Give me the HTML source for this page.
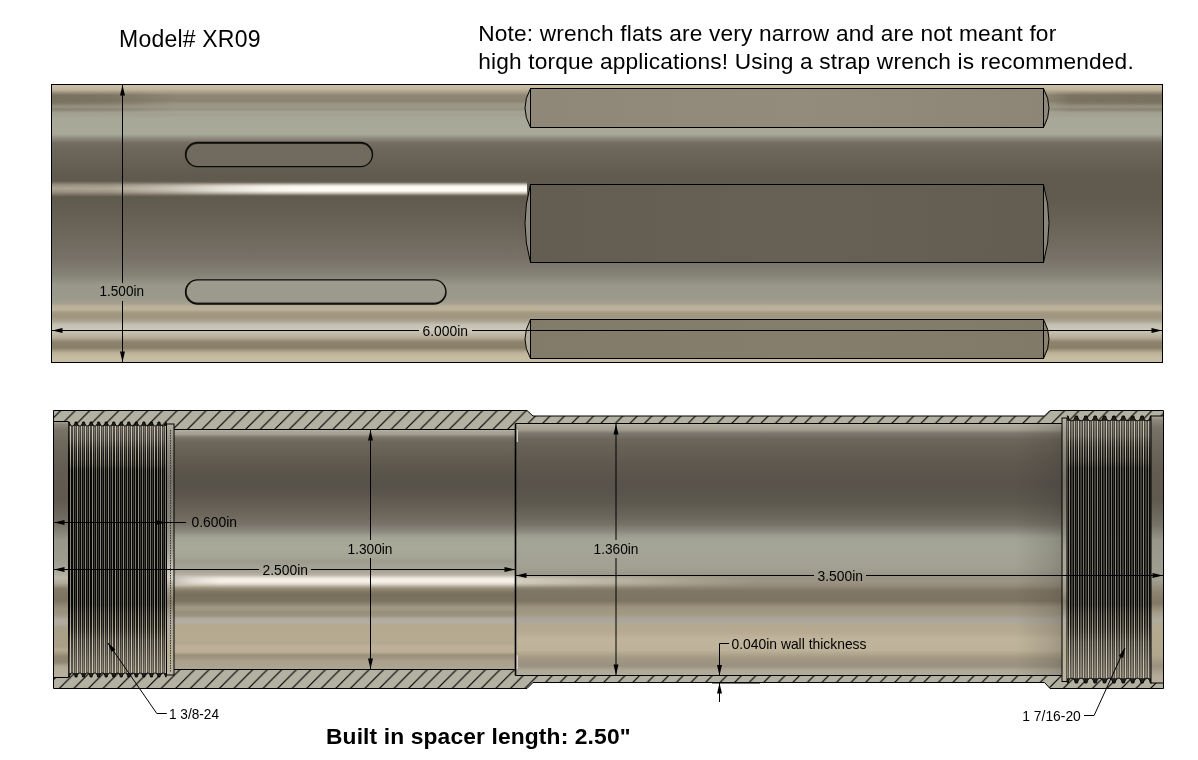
<!DOCTYPE html><html><head><meta charset="utf-8"><title>XR09</title><style>html,body{margin:0;padding:0;background:#fff}svg{display:block}text{font-family:"Liberation Sans",sans-serif;fill:#000;opacity:0.999}</style></head><body><svg width="1198" height="760" viewBox="0 0 1198 760"><rect width="1198" height="760" fill="#fff"/><defs><linearGradient id="gTop" gradientUnits="userSpaceOnUse" x1="0" y1="84.5" x2="0" y2="362.5"><stop offset="0.0000" stop-color="#cfc4aa"/><stop offset="0.0162" stop-color="#c2b79e"/><stop offset="0.0270" stop-color="#aaa08a"/><stop offset="0.0396" stop-color="#8e8573"/><stop offset="0.0576" stop-color="#8b8271"/><stop offset="0.0701" stop-color="#9a9483"/><stop offset="0.0809" stop-color="#9c9887"/><stop offset="0.0899" stop-color="#979383"/><stop offset="0.0989" stop-color="#a5a394"/><stop offset="0.1079" stop-color="#a1a091"/><stop offset="0.1241" stop-color="#a8a899"/><stop offset="0.1781" stop-color="#a9a99a"/><stop offset="0.1924" stop-color="#908d7f"/><stop offset="0.2104" stop-color="#736d61"/><stop offset="0.2356" stop-color="#6d665b"/><stop offset="0.3255" stop-color="#605a4f"/><stop offset="0.4047" stop-color="#5f594e"/><stop offset="0.4263" stop-color="#615b50"/><stop offset="0.4874" stop-color="#676156"/><stop offset="0.5594" stop-color="#6f695e"/><stop offset="0.6277" stop-color="#777267"/><stop offset="0.6853" stop-color="#858276"/><stop offset="0.7212" stop-color="#98978a"/><stop offset="0.7716" stop-color="#9b9a8c"/><stop offset="0.7860" stop-color="#a39f8d"/><stop offset="0.7986" stop-color="#bab09a"/><stop offset="0.8094" stop-color="#bcb29b"/><stop offset="0.8219" stop-color="#a2977f"/><stop offset="0.8363" stop-color="#a0957f"/><stop offset="0.8507" stop-color="#aaa390"/><stop offset="0.8633" stop-color="#c4bfb1"/><stop offset="0.8813" stop-color="#cdc8bb"/><stop offset="0.8975" stop-color="#c0b9a8"/><stop offset="0.9119" stop-color="#b4ab97"/><stop offset="0.9263" stop-color="#8d826b"/><stop offset="0.9478" stop-color="#8a7f68"/><stop offset="0.9658" stop-color="#bcb299"/><stop offset="0.9802" stop-color="#c5bba1"/><stop offset="1.0000" stop-color="#c9bfa6"/></linearGradient><linearGradient id="gHaV" gradientUnits="userSpaceOnUse" x1="0" y1="181" x2="0" y2="197"><stop offset="0.0000" stop-color="#a79d8c" stop-opacity="0"/><stop offset="0.2500" stop-color="#a79d8c" stop-opacity="0.8"/><stop offset="0.4688" stop-color="#b1a796" stop-opacity="0.95"/><stop offset="0.6875" stop-color="#a79d8c" stop-opacity="0.8"/><stop offset="1.0000" stop-color="#a79d8c" stop-opacity="0"/></linearGradient><linearGradient id="gHiV" gradientUnits="userSpaceOnUse" x1="0" y1="182.5" x2="0" y2="195.5"><stop offset="0.0000" stop-color="#e9e2d5" stop-opacity="0"/><stop offset="0.2308" stop-color="#f1ebe0" stop-opacity="0.9"/><stop offset="0.3462" stop-color="#fffdf8" stop-opacity="1"/><stop offset="0.6154" stop-color="#fffdf8" stop-opacity="1"/><stop offset="0.7308" stop-color="#f1ebe0" stop-opacity="0.9"/><stop offset="1.0000" stop-color="#e2dacb" stop-opacity="0"/></linearGradient><linearGradient id="gHiH" gradientUnits="userSpaceOnUse" x1="51" y1="0" x2="527" y2="0"><stop offset="0.0000" stop-color="#fff" stop-opacity="0.0"/><stop offset="0.1239" stop-color="#fff" stop-opacity="0.05"/><stop offset="0.2500" stop-color="#fff" stop-opacity="0.35"/><stop offset="0.3550" stop-color="#fff" stop-opacity="0.7"/><stop offset="0.4601" stop-color="#fff" stop-opacity="0.93"/><stop offset="0.5651" stop-color="#fff" stop-opacity="1"/><stop offset="1.0000" stop-color="#fff" stop-opacity="1"/></linearGradient><mask id="mHi"><rect x="51" y="178" width="476" height="24" fill="url(#gHiH)"/></mask><linearGradient id="gEndV" gradientUnits="userSpaceOnUse" x1="0" y1="91" x2="0" y2="113.5"><stop offset="0.0000" stop-color="#6c6354" stop-opacity="0"/><stop offset="0.2000" stop-color="#6c6354" stop-opacity="0.6"/><stop offset="0.5333" stop-color="#6c6354" stop-opacity="0.6"/><stop offset="0.6889" stop-color="#6c6354" stop-opacity="0.15"/><stop offset="0.8444" stop-color="#6c6354" stop-opacity="0.35"/><stop offset="1.0000" stop-color="#6c6354" stop-opacity="0"/></linearGradient><linearGradient id="gEndHL" gradientUnits="userSpaceOnUse" x1="51" y1="0" x2="175" y2="0"><stop offset="0.0000" stop-color="#fff" stop-opacity="1"/><stop offset="0.4758" stop-color="#fff" stop-opacity="0.8"/><stop offset="1.0000" stop-color="#fff" stop-opacity="0"/></linearGradient><linearGradient id="gEndHR" gradientUnits="userSpaceOnUse" x1="1046" y1="0" x2="1162" y2="0"><stop offset="0.0000" stop-color="#fff" stop-opacity="0"/><stop offset="0.2069" stop-color="#fff" stop-opacity="0.9"/><stop offset="1.0000" stop-color="#fff" stop-opacity="1"/></linearGradient><mask id="mEndL"><rect x="51" y="90" width="125" height="25" fill="url(#gEndHL)"/></mask><mask id="mEndR"><rect x="1046" y="90" width="117" height="25" fill="url(#gEndHR)"/></mask><linearGradient id="gF1" gradientUnits="userSpaceOnUse" x1="530" y1="0" x2="1043" y2="0"><stop offset="0.0000" stop-color="#8f8777"/><stop offset="0.5263" stop-color="#938b7b"/><stop offset="1.0000" stop-color="#8d8575"/></linearGradient><linearGradient id="gF2" gradientUnits="userSpaceOnUse" x1="530" y1="0" x2="1043" y2="0"><stop offset="0.0000" stop-color="#645d51"/><stop offset="0.5263" stop-color="#676054"/><stop offset="1.0000" stop-color="#645d52"/></linearGradient><linearGradient id="gF3" gradientUnits="userSpaceOnUse" x1="530" y1="0" x2="1043" y2="0"><stop offset="0.0000" stop-color="#837b6a"/><stop offset="0.5263" stop-color="#867e6d"/><stop offset="1.0000" stop-color="#827a69"/></linearGradient><pattern id="hatch" patternUnits="userSpaceOnUse" width="14.55" height="14.55" x="60.8" y="410.5"><rect width="14.55" height="14.55" fill="#b3b1a1"/><path d="M-1 1 L1 -1 M-1 15.55 L15.55 -1 M13.55 15.55 L15.55 13.55" stroke="#000" stroke-width="1.2"/></pattern><linearGradient id="gBL" gradientUnits="userSpaceOnUse" x1="0" y1="429.5" x2="0" y2="669.5"><stop offset="0.0000" stop-color="#bcb7a5"/><stop offset="0.0083" stop-color="#aca899"/><stop offset="0.0208" stop-color="#9f9b8e"/><stop offset="0.0271" stop-color="#8a8578"/><stop offset="0.0354" stop-color="#777167"/><stop offset="0.0521" stop-color="#6d675c"/><stop offset="0.1146" stop-color="#635d52"/><stop offset="0.1688" stop-color="#5b564b"/><stop offset="0.2437" stop-color="#57524a"/><stop offset="0.3146" stop-color="#645e54"/><stop offset="0.3604" stop-color="#6e685d"/><stop offset="0.3937" stop-color="#787368"/><stop offset="0.4229" stop-color="#8a887c"/><stop offset="0.4396" stop-color="#9b9a8d"/><stop offset="0.4542" stop-color="#a6a697"/><stop offset="0.4938" stop-color="#a9a99a"/><stop offset="0.5354" stop-color="#a5a596"/><stop offset="0.5479" stop-color="#9c9b8d"/><stop offset="0.5687" stop-color="#a2a193"/><stop offset="0.5938" stop-color="#a9a698"/><stop offset="0.6062" stop-color="#b9b4a6"/><stop offset="0.6146" stop-color="#dcd7cb"/><stop offset="0.6229" stop-color="#f4f0e8"/><stop offset="0.6354" stop-color="#f4f0e8"/><stop offset="0.6438" stop-color="#e0d9cb"/><stop offset="0.6521" stop-color="#bdb4a1"/><stop offset="0.6604" stop-color="#9c927e"/><stop offset="0.6729" stop-color="#837966"/><stop offset="0.6896" stop-color="#786e5c"/><stop offset="0.7146" stop-color="#7d7361"/><stop offset="0.7292" stop-color="#8f8572"/><stop offset="0.7396" stop-color="#a09782"/><stop offset="0.7521" stop-color="#a09782"/><stop offset="0.7625" stop-color="#968d7a"/><stop offset="0.7771" stop-color="#9d9582"/><stop offset="0.7896" stop-color="#b1aca0"/><stop offset="0.8063" stop-color="#b3aea2"/><stop offset="0.8146" stop-color="#b5a98f"/><stop offset="0.8812" stop-color="#b6aa90"/><stop offset="0.8896" stop-color="#b0a893"/><stop offset="0.9021" stop-color="#bdb096"/><stop offset="0.9271" stop-color="#bcaf95"/><stop offset="0.9396" stop-color="#9c927e"/><stop offset="0.9521" stop-color="#9e947f"/><stop offset="0.9646" stop-color="#aaa08b"/><stop offset="0.9896" stop-color="#ada38e"/><stop offset="1.0000" stop-color="#b0a793"/></linearGradient><linearGradient id="gBR" gradientUnits="userSpaceOnUse" x1="0" y1="423.5" x2="0" y2="675.5"><stop offset="0.0000" stop-color="#bcb7a5"/><stop offset="0.0099" stop-color="#aeaa9b"/><stop offset="0.0258" stop-color="#a19d8f"/><stop offset="0.0317" stop-color="#8e8a7d"/><stop offset="0.0397" stop-color="#7c776c"/><stop offset="0.0635" stop-color="#6c665b"/><stop offset="0.0893" stop-color="#676156"/><stop offset="0.1528" stop-color="#5f594f"/><stop offset="0.2440" stop-color="#57524a"/><stop offset="0.3155" stop-color="#5e594f"/><stop offset="0.3631" stop-color="#6a655b"/><stop offset="0.3988" stop-color="#767166"/><stop offset="0.4266" stop-color="#8a887c"/><stop offset="0.4425" stop-color="#9a998c"/><stop offset="0.4563" stop-color="#a3a395"/><stop offset="0.4940" stop-color="#a5a597"/><stop offset="0.5417" stop-color="#a3a294"/><stop offset="0.5734" stop-color="#a1a092"/><stop offset="0.5933" stop-color="#9d9a8b"/><stop offset="0.6091" stop-color="#9a9585"/><stop offset="0.6290" stop-color="#9a9484"/><stop offset="0.6448" stop-color="#938a78"/><stop offset="0.6647" stop-color="#807665"/><stop offset="0.7044" stop-color="#7e7462"/><stop offset="0.7282" stop-color="#9c927e"/><stop offset="0.7599" stop-color="#a49b87"/><stop offset="0.7758" stop-color="#aaa69a"/><stop offset="0.7877" stop-color="#ada89b"/><stop offset="0.8036" stop-color="#b4a990"/><stop offset="0.8313" stop-color="#b7ac93"/><stop offset="0.8552" stop-color="#c0b59c"/><stop offset="0.8988" stop-color="#beb39a"/><stop offset="0.9147" stop-color="#b0a58d"/><stop offset="0.9345" stop-color="#a09682"/><stop offset="0.9623" stop-color="#9b9180"/><stop offset="0.9782" stop-color="#aea796"/><stop offset="1.0000" stop-color="#b5ae9d"/></linearGradient><linearGradient id="gRD" gradientUnits="userSpaceOnUse" x1="1015" y1="0" x2="1062" y2="0"><stop offset="0.0000" stop-color="#2a2822" stop-opacity="0"/><stop offset="0.7447" stop-color="#2a2822" stop-opacity="0.14"/><stop offset="1.0000" stop-color="#2a2822" stop-opacity="0.22"/></linearGradient><linearGradient id="gRH" gradientUnits="userSpaceOnUse" x1="516" y1="0" x2="760" y2="0"><stop offset="0.0000" stop-color="#e6e0d2" stop-opacity="0.75"/><stop offset="0.4262" stop-color="#ddd6c6" stop-opacity="0.45"/><stop offset="1.0000" stop-color="#d0c8b6" stop-opacity="0.0"/></linearGradient><linearGradient id="gRHv" gradientUnits="userSpaceOnUse" x1="0" y1="574" x2="0" y2="588"><stop offset="0.0000" stop-color="#fff" stop-opacity="0"/><stop offset="0.3571" stop-color="#fff" stop-opacity="1"/><stop offset="0.6429" stop-color="#fff" stop-opacity="1"/><stop offset="1.0000" stop-color="#fff" stop-opacity="0"/></linearGradient><mask id="mRH"><rect x="515" y="572" width="250" height="18" fill="url(#gRHv)"/></mask><linearGradient id="gLF" gradientUnits="userSpaceOnUse" x1="174" y1="0" x2="235" y2="0"><stop offset="0.0000" stop-color="#a39f92" stop-opacity="0.6"/><stop offset="0.2623" stop-color="#a8a396" stop-opacity="0.3"/><stop offset="0.7541" stop-color="#b0ab9e" stop-opacity="0.0"/></linearGradient><linearGradient id="gLFv" gradientUnits="userSpaceOnUse" x1="0" y1="574" x2="0" y2="587"><stop offset="0.0000" stop-color="#fff" stop-opacity="0"/><stop offset="0.3077" stop-color="#fff" stop-opacity="1"/><stop offset="0.6923" stop-color="#fff" stop-opacity="1"/><stop offset="1.0000" stop-color="#fff" stop-opacity="0"/></linearGradient><mask id="mLF"><rect x="174" y="572" width="70" height="18" fill="url(#gLFv)"/></mask><linearGradient id="gEL" gradientUnits="userSpaceOnUse" x1="0" y1="421.5" x2="0" y2="677.5"><stop offset="0.0000" stop-color="#a9a596"/><stop offset="0.0098" stop-color="#8d887b"/><stop offset="0.0332" stop-color="#787267"/><stop offset="0.0918" stop-color="#6d675c"/><stop offset="0.1895" stop-color="#625c52"/><stop offset="0.3066" stop-color="#5f594f"/><stop offset="0.4043" stop-color="#777368"/><stop offset="0.4629" stop-color="#979689"/><stop offset="0.5410" stop-color="#9d9c8e"/><stop offset="0.5879" stop-color="#aeab9e"/><stop offset="0.6113" stop-color="#bcb8aa"/><stop offset="0.6309" stop-color="#b0a999"/><stop offset="0.6543" stop-color="#847967"/><stop offset="0.6973" stop-color="#7c7260"/><stop offset="0.7285" stop-color="#978e7a"/><stop offset="0.7520" stop-color="#9d9480"/><stop offset="0.7754" stop-color="#b0ab9e"/><stop offset="0.7910" stop-color="#b0ab9e"/><stop offset="0.8066" stop-color="#a99e86"/><stop offset="0.8770" stop-color="#aa9f87"/><stop offset="0.8926" stop-color="#b5a98f"/><stop offset="0.9199" stop-color="#8f8571"/><stop offset="0.9395" stop-color="#8f8571"/><stop offset="0.9590" stop-color="#b3ab98"/><stop offset="1.0000" stop-color="#b8b09d"/></linearGradient><linearGradient id="gThS" gradientUnits="userSpaceOnUse" x1="0" y1="423" x2="0" y2="676"><stop offset="0.0000" stop-color="#d5d0be" stop-opacity="0.38"/><stop offset="0.0672" stop-color="#cfcab8" stop-opacity="0.26"/><stop offset="0.1265" stop-color="#6a6659" stop-opacity="0.12"/><stop offset="0.1858" stop-color="#000" stop-opacity="0.3"/><stop offset="0.7194" stop-color="#000" stop-opacity="0.28"/><stop offset="0.7984" stop-color="#5d5748" stop-opacity="0.15"/><stop offset="0.8577" stop-color="#cfc6ae" stop-opacity="0.22"/><stop offset="0.9368" stop-color="#d2c9b2" stop-opacity="0.36"/><stop offset="1.0000" stop-color="#d6ceb8" stop-opacity="0.45"/></linearGradient><linearGradient id="gGrv" gradientUnits="userSpaceOnUse" x1="0" y1="424" x2="0" y2="675"><stop offset="0.0000" stop-color="#b7b3a3"/><stop offset="0.0319" stop-color="#a39f90"/><stop offset="0.1036" stop-color="#8d897c"/><stop offset="0.2231" stop-color="#777368"/><stop offset="0.3825" stop-color="#868377"/><stop offset="0.5020" stop-color="#a5a496"/><stop offset="0.6135" stop-color="#d5d0c4"/><stop offset="0.6614" stop-color="#a39a88"/><stop offset="0.7092" stop-color="#8a806e"/><stop offset="0.7809" stop-color="#b1aca0"/><stop offset="0.9004" stop-color="#b9ae95"/><stop offset="1.0000" stop-color="#bdb5a2"/></linearGradient><linearGradient id="gGrvR" gradientUnits="userSpaceOnUse" x1="0" y1="418" x2="0" y2="681"><stop offset="0.0000" stop-color="#b7b3a3"/><stop offset="0.0532" stop-color="#a39f90"/><stop offset="0.1217" stop-color="#8d897c"/><stop offset="0.2357" stop-color="#777368"/><stop offset="0.3878" stop-color="#868377"/><stop offset="0.5019" stop-color="#a5a496"/><stop offset="0.6084" stop-color="#a9a597"/><stop offset="0.6540" stop-color="#a39a88"/><stop offset="0.6996" stop-color="#8a806e"/><stop offset="0.7681" stop-color="#b1aca0"/><stop offset="0.8821" stop-color="#b9ae95"/><stop offset="1.0000" stop-color="#bdb5a2"/></linearGradient><linearGradient id="gThSR" gradientUnits="userSpaceOnUse" x1="0" y1="416" x2="0" y2="683"><stop offset="0.0000" stop-color="#d5d0be" stop-opacity="0.38"/><stop offset="0.0749" stop-color="#cfcab8" stop-opacity="0.26"/><stop offset="0.1348" stop-color="#6a6659" stop-opacity="0.12"/><stop offset="0.1948" stop-color="#000" stop-opacity="0.3"/><stop offset="0.7079" stop-color="#000" stop-opacity="0.28"/><stop offset="0.7828" stop-color="#5d5748" stop-opacity="0.15"/><stop offset="0.8464" stop-color="#cfc6ae" stop-opacity="0.22"/><stop offset="0.9288" stop-color="#d2c9b2" stop-opacity="0.36"/><stop offset="1.0000" stop-color="#d6ceb8" stop-opacity="0.45"/></linearGradient><linearGradient id="gER" gradientUnits="userSpaceOnUse" x1="0" y1="416" x2="0" y2="683"><stop offset="0.0000" stop-color="#a9a596"/><stop offset="0.0150" stop-color="#8d887b"/><stop offset="0.0449" stop-color="#787267"/><stop offset="0.1086" stop-color="#6d675c"/><stop offset="0.2022" stop-color="#625c52"/><stop offset="0.3146" stop-color="#5f594f"/><stop offset="0.4082" stop-color="#777368"/><stop offset="0.4644" stop-color="#979689"/><stop offset="0.5581" stop-color="#9d9c8e"/><stop offset="0.6142" stop-color="#a29f91"/><stop offset="0.6592" stop-color="#8e8471"/><stop offset="0.7004" stop-color="#817765"/><stop offset="0.7341" stop-color="#a39a86"/><stop offset="0.7640" stop-color="#b0ab9e"/><stop offset="0.7940" stop-color="#b5a98f"/><stop offset="0.8951" stop-color="#b2a68d"/><stop offset="0.9363" stop-color="#9b917d"/><stop offset="0.9738" stop-color="#b3ab98"/><stop offset="1.0000" stop-color="#b8b09d"/></linearGradient></defs><rect x="51.5" y="84.5" width="1111.0" height="278.0" fill="url(#gTop)"/>
<rect x="51.5" y="181" width="475.5" height="16" fill="url(#gHaV)"/>
<rect x="51" y="182.5" width="476" height="13" fill="url(#gHiV)" mask="url(#mHi)"/>
<rect x="51.5" y="91" width="124" height="22.5" fill="url(#gEndV)" mask="url(#mEndL)"/>
<rect x="1046" y="91" width="116.5" height="22.5" fill="url(#gEndV)" mask="url(#mEndR)"/>
<path d="M530.5 88.5 Q519.5 108.0 530.5 127.5 Z" fill="#a09a88" stroke="#000" stroke-width="1"/><path d="M1043.5 88.5 Q1054.5 108.0 1043.5 127.5 Z" fill="#8f8777" stroke="#000" stroke-width="1"/><rect x="530.5" y="88.5" width="513.0" height="39.0" fill="url(#gF1)" stroke="#000" stroke-width="1"/>
<path d="M530.5 184.5 Q519.5 223.5 530.5 262.5 Z" fill="#8d8a7d" stroke="#000" stroke-width="1"/><path d="M1043.5 184.5 Q1054.5 223.5 1043.5 262.5 Z" fill="#8a877a" stroke="#000" stroke-width="1"/><rect x="530.5" y="184.5" width="513.0" height="78.0" fill="url(#gF2)" stroke="#000" stroke-width="1"/>
<path d="M530.5 319.5 Q519.5 339.0 530.5 358.5 Z" fill="#b5ae9c" stroke="#000" stroke-width="1"/><path d="M1043.5 319.5 Q1054.5 339.0 1043.5 358.5 Z" fill="#8a826f" stroke="#000" stroke-width="1"/><rect x="530.5" y="319.5" width="513.0" height="39.0" fill="url(#gF3)" stroke="#000" stroke-width="1"/>
<rect x="185.5" y="142.5" width="187.0" height="24.0" rx="12.0" ry="12.0" fill="#2a2722" stroke="#0a0a08" stroke-width="1.3"/><rect x="186.8" y="144.1" width="184.8" height="21.900000000000006" rx="10.950000000000003" ry="10.950000000000003" fill="#716a5e"/>
<rect x="185.5" y="280" width="260.5" height="24" rx="12.0" ry="12.0" fill="#2a2722" stroke="#0a0a08" stroke-width="1.3"/><rect x="186.8" y="280.5" width="258.3" height="21.899999999999977" rx="10.949999999999989" ry="10.949999999999989" fill="#9c9a8c"/>
<rect x="51.5" y="84.5" width="1111.0" height="278.0" fill="none" stroke="#000" stroke-width="1"/>
<line x1="122.5" y1="85" x2="122.5" y2="283" stroke="#000" stroke-width="1"/>
<line x1="122.5" y1="301" x2="122.5" y2="362" stroke="#000" stroke-width="1"/>
<polygon points="122.5,85.0 120.0,95.5 125.0,95.5" fill="#000"/>
<polygon points="122.5,362.0 120.0,351.5 125.0,351.5" fill="#000"/>
<text x="99.5" y="296.4" font-size="14.5" textLength="44.5" lengthAdjust="spacingAndGlyphs">1.500in</text>
<line x1="52" y1="330.5" x2="419" y2="330.5" stroke="#000" stroke-width="1"/>
<line x1="472" y1="330.5" x2="1162" y2="330.5" stroke="#000" stroke-width="1"/>
<polygon points="52.0,330.5 62.5,328.0 62.5,333.0" fill="#000"/>
<polygon points="1162.0,330.5 1151.5,328.0 1151.5,333.0" fill="#000"/>
<text x="422.5" y="335.9" font-size="14.5" textLength="45.5" lengthAdjust="spacingAndGlyphs">6.000in</text>
<polygon points="53.5,410.5 527,410.5 533,416 1044.5,416 1050,410.5 1163.5,410.5 1163.5,688.5 1050,688.5 1044.5,682.5 533,682.5 527,688.5 53.5,688.5" fill="url(#hatch)" stroke="#000" stroke-width="1"/>
<rect x="174" y="429.5" width="341.5" height="240" fill="url(#gBL)"/>
<rect x="515.5" y="423.5" width="546.5" height="252" fill="url(#gBR)"/>
<rect x="1015" y="423.5" width="47" height="252" fill="url(#gRD)"/>
<rect x="515.5" y="574" width="245" height="14" fill="url(#gRH)" mask="url(#mRH)"/>
<rect x="174" y="574" width="61" height="13" fill="url(#gLF)" mask="url(#mLF)"/>
<line x1="174" y1="429.5" x2="515.5" y2="429.5" stroke="#000" stroke-width="1"/>
<line x1="174" y1="669.5" x2="515.5" y2="669.5" stroke="#000" stroke-width="1"/>
<line x1="515.5" y1="423.5" x2="1062" y2="423.5" stroke="#000" stroke-width="1"/>
<line x1="515.5" y1="675.5" x2="1062" y2="675.5" stroke="#000" stroke-width="1"/>
<line x1="515.5" y1="423.5" x2="515.5" y2="675.5" stroke="#000" stroke-width="1.6"/>
<line x1="517.3" y1="430" x2="517.3" y2="442" stroke="#d8d4c8" stroke-width="1.2"/>
<line x1="517.3" y1="655" x2="517.3" y2="669" stroke="#d8d4c8" stroke-width="1.2"/>
<rect x="53.5" y="421.5" width="15" height="256" fill="url(#gEL)" stroke="#000" stroke-width="1"/>
<g shape-rendering="crispEdges"><rect x="68.5" y="423" width="98.0" height="253" fill="#55524a"/><rect x="68.50" y="423" width="1" height="253" fill="#0b0b09"/><rect x="69.50" y="423" width="1" height="253" fill="#c6c0af"/><rect x="70.50" y="423" width="1" height="253" fill="#0b0b09"/><rect x="72.33" y="423" width="1" height="253" fill="#0b0b09"/><rect x="73.33" y="423" width="1" height="253" fill="#aaa494"/><rect x="74.33" y="423" width="1" height="253" fill="#0b0b09"/><rect x="76.15" y="423" width="1" height="253" fill="#0b0b09"/><rect x="77.15" y="423" width="1" height="253" fill="#c6c0af"/><rect x="78.15" y="423" width="1" height="253" fill="#0b0b09"/><rect x="79.98" y="423" width="1" height="253" fill="#0b0b09"/><rect x="80.98" y="423" width="1" height="253" fill="#aaa494"/><rect x="81.98" y="423" width="1" height="253" fill="#0b0b09"/><rect x="83.80" y="423" width="1" height="253" fill="#0b0b09"/><rect x="84.80" y="423" width="1" height="253" fill="#c6c0af"/><rect x="85.80" y="423" width="1" height="253" fill="#0b0b09"/><rect x="87.63" y="423" width="1" height="253" fill="#0b0b09"/><rect x="88.63" y="423" width="1" height="253" fill="#aaa494"/><rect x="89.63" y="423" width="1" height="253" fill="#0b0b09"/><rect x="91.45" y="423" width="1" height="253" fill="#0b0b09"/><rect x="92.45" y="423" width="1" height="253" fill="#c6c0af"/><rect x="93.45" y="423" width="1" height="253" fill="#0b0b09"/><rect x="95.28" y="423" width="1" height="253" fill="#0b0b09"/><rect x="96.28" y="423" width="1" height="253" fill="#aaa494"/><rect x="97.28" y="423" width="1" height="253" fill="#0b0b09"/><rect x="99.10" y="423" width="1" height="253" fill="#0b0b09"/><rect x="100.10" y="423" width="1" height="253" fill="#c6c0af"/><rect x="101.10" y="423" width="1" height="253" fill="#0b0b09"/><rect x="102.93" y="423" width="1" height="253" fill="#0b0b09"/><rect x="103.93" y="423" width="1" height="253" fill="#aaa494"/><rect x="104.93" y="423" width="1" height="253" fill="#0b0b09"/><rect x="106.75" y="423" width="1" height="253" fill="#0b0b09"/><rect x="107.75" y="423" width="1" height="253" fill="#c6c0af"/><rect x="108.75" y="423" width="1" height="253" fill="#0b0b09"/><rect x="110.58" y="423" width="1" height="253" fill="#0b0b09"/><rect x="111.58" y="423" width="1" height="253" fill="#aaa494"/><rect x="112.58" y="423" width="1" height="253" fill="#0b0b09"/><rect x="114.40" y="423" width="1" height="253" fill="#0b0b09"/><rect x="115.40" y="423" width="1" height="253" fill="#c6c0af"/><rect x="116.40" y="423" width="1" height="253" fill="#0b0b09"/><rect x="118.23" y="423" width="1" height="253" fill="#0b0b09"/><rect x="119.23" y="423" width="1" height="253" fill="#aaa494"/><rect x="120.23" y="423" width="1" height="253" fill="#0b0b09"/><rect x="122.05" y="423" width="1" height="253" fill="#0b0b09"/><rect x="123.05" y="423" width="1" height="253" fill="#c6c0af"/><rect x="124.05" y="423" width="1" height="253" fill="#0b0b09"/><rect x="125.88" y="423" width="1" height="253" fill="#0b0b09"/><rect x="126.88" y="423" width="1" height="253" fill="#aaa494"/><rect x="127.88" y="423" width="1" height="253" fill="#0b0b09"/><rect x="129.70" y="423" width="1" height="253" fill="#0b0b09"/><rect x="130.70" y="423" width="1" height="253" fill="#c6c0af"/><rect x="131.70" y="423" width="1" height="253" fill="#0b0b09"/><rect x="133.53" y="423" width="1" height="253" fill="#0b0b09"/><rect x="134.53" y="423" width="1" height="253" fill="#aaa494"/><rect x="135.53" y="423" width="1" height="253" fill="#0b0b09"/><rect x="137.35" y="423" width="1" height="253" fill="#0b0b09"/><rect x="138.35" y="423" width="1" height="253" fill="#c6c0af"/><rect x="139.35" y="423" width="1" height="253" fill="#0b0b09"/><rect x="141.18" y="423" width="1" height="253" fill="#0b0b09"/><rect x="142.18" y="423" width="1" height="253" fill="#aaa494"/><rect x="143.18" y="423" width="1" height="253" fill="#0b0b09"/><rect x="145.00" y="423" width="1" height="253" fill="#0b0b09"/><rect x="146.00" y="423" width="1" height="253" fill="#c6c0af"/><rect x="147.00" y="423" width="1" height="253" fill="#0b0b09"/><rect x="148.82" y="423" width="1" height="253" fill="#0b0b09"/><rect x="149.82" y="423" width="1" height="253" fill="#aaa494"/><rect x="150.82" y="423" width="1" height="253" fill="#0b0b09"/><rect x="152.65" y="423" width="1" height="253" fill="#0b0b09"/><rect x="153.65" y="423" width="1" height="253" fill="#c6c0af"/><rect x="154.65" y="423" width="1" height="253" fill="#0b0b09"/><rect x="156.47" y="423" width="1" height="253" fill="#0b0b09"/><rect x="157.47" y="423" width="1" height="253" fill="#aaa494"/><rect x="158.47" y="423" width="1" height="253" fill="#0b0b09"/><rect x="160.30" y="423" width="1" height="253" fill="#0b0b09"/><rect x="161.30" y="423" width="1" height="253" fill="#c6c0af"/><rect x="162.30" y="423" width="1" height="253" fill="#0b0b09"/><rect x="164.12" y="423" width="1" height="253" fill="#0b0b09"/><rect x="165.12" y="423" width="1" height="253" fill="#aaa494"/><rect x="166.12" y="423" width="1" height="253" fill="#0b0b09"/></g>
<rect x="68.5" y="423" width="98" height="253" fill="url(#gThS)"/>
<rect x="68.5" y="422.00" width="98.0" height="4.00" fill="#1f1e1a"/><path d="M68.50 422.00 L69.40 422.00 C70.16 427.33 74.38 427.33 75.13 422.00 L76.94 422.00 C77.70 427.33 81.92 427.33 82.67 422.00 L84.48 422.00 C85.24 427.33 89.46 427.33 90.21 422.00 L92.02 422.00 C92.77 427.33 97.00 427.33 97.75 422.00 L99.56 422.00 C100.31 427.33 104.53 427.33 105.29 422.00 L107.10 422.00 C107.85 427.33 112.07 427.33 112.83 422.00 L114.64 422.00 C115.39 427.33 119.61 427.33 120.36 422.00 L122.17 422.00 C122.93 427.33 127.15 427.33 127.90 422.00 L129.71 422.00 C130.47 427.33 134.69 427.33 135.44 422.00 L137.25 422.00 C138.00 427.33 142.23 427.33 142.98 422.00 L144.79 422.00 C145.54 427.33 149.76 427.33 150.52 422.00 L152.33 422.00 C153.08 427.33 157.30 427.33 158.06 422.00 L159.87 422.00 C160.62 427.33 164.84 427.33 165.60 422.00 L166.50 422.00 L166.50 420.80 L68.50 420.80 Z" fill="url(#hatch)"/><path d="M68.50 422.00 L69.40 422.00 C70.16 427.33 74.38 427.33 75.13 422.00 L76.94 422.00 C77.70 427.33 81.92 427.33 82.67 422.00 L84.48 422.00 C85.24 427.33 89.46 427.33 90.21 422.00 L92.02 422.00 C92.77 427.33 97.00 427.33 97.75 422.00 L99.56 422.00 C100.31 427.33 104.53 427.33 105.29 422.00 L107.10 422.00 C107.85 427.33 112.07 427.33 112.83 422.00 L114.64 422.00 C115.39 427.33 119.61 427.33 120.36 422.00 L122.17 422.00 C122.93 427.33 127.15 427.33 127.90 422.00 L129.71 422.00 C130.47 427.33 134.69 427.33 135.44 422.00 L137.25 422.00 C138.00 427.33 142.23 427.33 142.98 422.00 L144.79 422.00 C145.54 427.33 149.76 427.33 150.52 422.00 L152.33 422.00 C153.08 427.33 157.30 427.33 158.06 422.00 L159.87 422.00 C160.62 427.33 164.84 427.33 165.60 422.00 L166.50 422.00" fill="none" stroke="#000" stroke-width="0.9" stroke-linejoin="round"/>
<rect x="68.5" y="673.00" width="98.0" height="4.00" fill="#1f1e1a"/><path d="M68.50 677.00 L69.40 677.00 C70.16 671.67 74.38 671.67 75.13 677.00 L76.94 677.00 C77.70 671.67 81.92 671.67 82.67 677.00 L84.48 677.00 C85.24 671.67 89.46 671.67 90.21 677.00 L92.02 677.00 C92.77 671.67 97.00 671.67 97.75 677.00 L99.56 677.00 C100.31 671.67 104.53 671.67 105.29 677.00 L107.10 677.00 C107.85 671.67 112.07 671.67 112.83 677.00 L114.64 677.00 C115.39 671.67 119.61 671.67 120.36 677.00 L122.17 677.00 C122.93 671.67 127.15 671.67 127.90 677.00 L129.71 677.00 C130.47 671.67 134.69 671.67 135.44 677.00 L137.25 677.00 C138.00 671.67 142.23 671.67 142.98 677.00 L144.79 677.00 C145.54 671.67 149.76 671.67 150.52 677.00 L152.33 677.00 C153.08 671.67 157.30 671.67 158.06 677.00 L159.87 677.00 C160.62 671.67 164.84 671.67 165.60 677.00 L166.50 677.00 L166.50 678.20 L68.50 678.20 Z" fill="url(#hatch)"/><path d="M68.50 677.00 L69.40 677.00 C70.16 671.67 74.38 671.67 75.13 677.00 L76.94 677.00 C77.70 671.67 81.92 671.67 82.67 677.00 L84.48 677.00 C85.24 671.67 89.46 671.67 90.21 677.00 L92.02 677.00 C92.77 671.67 97.00 671.67 97.75 677.00 L99.56 677.00 C100.31 671.67 104.53 671.67 105.29 677.00 L107.10 677.00 C107.85 671.67 112.07 671.67 112.83 677.00 L114.64 677.00 C115.39 671.67 119.61 671.67 120.36 677.00 L122.17 677.00 C122.93 671.67 127.15 671.67 127.90 677.00 L129.71 677.00 C130.47 671.67 134.69 671.67 135.44 677.00 L137.25 677.00 C138.00 671.67 142.23 671.67 142.98 677.00 L144.79 677.00 C145.54 671.67 149.76 671.67 150.52 677.00 L152.33 677.00 C153.08 671.67 157.30 671.67 158.06 677.00 L159.87 677.00 C160.62 671.67 164.84 671.67 165.60 677.00 L166.50 677.00" fill="none" stroke="#000" stroke-width="0.9" stroke-linejoin="round"/>
<rect x="166.5" y="424" width="7.5" height="251" fill="url(#gGrv)" stroke="#000" stroke-width="1"/>
<line x1="170.5" y1="430" x2="170.5" y2="672" stroke="#3a3832" stroke-width="1" stroke-dasharray="1.5 1"/>
<rect x="1062" y="418" width="5" height="263.5" fill="url(#gGrvR)" stroke="#000" stroke-width="1"/>
<g shape-rendering="crispEdges"><rect x="1067" y="416.5" width="84.5" height="266.0" fill="#55524a"/><rect x="1068.00" y="416.5" width="1" height="266.0" fill="#0b0b09"/><rect x="1069.00" y="416.5" width="1" height="266.0" fill="#c6c0af"/><rect x="1070.00" y="416.5" width="1" height="266.0" fill="#0b0b09"/><rect x="1072.63" y="416.5" width="1" height="266.0" fill="#0b0b09"/><rect x="1073.63" y="416.5" width="1" height="266.0" fill="#aaa494"/><rect x="1074.63" y="416.5" width="1" height="266.0" fill="#0b0b09"/><rect x="1077.26" y="416.5" width="1" height="266.0" fill="#0b0b09"/><rect x="1078.26" y="416.5" width="1" height="266.0" fill="#c6c0af"/><rect x="1079.26" y="416.5" width="1" height="266.0" fill="#0b0b09"/><rect x="1081.89" y="416.5" width="1" height="266.0" fill="#0b0b09"/><rect x="1082.89" y="416.5" width="1" height="266.0" fill="#aaa494"/><rect x="1083.89" y="416.5" width="1" height="266.0" fill="#0b0b09"/><rect x="1086.52" y="416.5" width="1" height="266.0" fill="#0b0b09"/><rect x="1087.52" y="416.5" width="1" height="266.0" fill="#c6c0af"/><rect x="1088.52" y="416.5" width="1" height="266.0" fill="#0b0b09"/><rect x="1091.15" y="416.5" width="1" height="266.0" fill="#0b0b09"/><rect x="1092.15" y="416.5" width="1" height="266.0" fill="#aaa494"/><rect x="1093.15" y="416.5" width="1" height="266.0" fill="#0b0b09"/><rect x="1095.78" y="416.5" width="1" height="266.0" fill="#0b0b09"/><rect x="1096.78" y="416.5" width="1" height="266.0" fill="#c6c0af"/><rect x="1097.78" y="416.5" width="1" height="266.0" fill="#0b0b09"/><rect x="1100.41" y="416.5" width="1" height="266.0" fill="#0b0b09"/><rect x="1101.41" y="416.5" width="1" height="266.0" fill="#aaa494"/><rect x="1102.41" y="416.5" width="1" height="266.0" fill="#0b0b09"/><rect x="1105.04" y="416.5" width="1" height="266.0" fill="#0b0b09"/><rect x="1106.04" y="416.5" width="1" height="266.0" fill="#c6c0af"/><rect x="1107.04" y="416.5" width="1" height="266.0" fill="#0b0b09"/><rect x="1109.67" y="416.5" width="1" height="266.0" fill="#0b0b09"/><rect x="1110.67" y="416.5" width="1" height="266.0" fill="#aaa494"/><rect x="1111.67" y="416.5" width="1" height="266.0" fill="#0b0b09"/><rect x="1114.30" y="416.5" width="1" height="266.0" fill="#0b0b09"/><rect x="1115.30" y="416.5" width="1" height="266.0" fill="#c6c0af"/><rect x="1116.30" y="416.5" width="1" height="266.0" fill="#0b0b09"/><rect x="1118.93" y="416.5" width="1" height="266.0" fill="#0b0b09"/><rect x="1119.93" y="416.5" width="1" height="266.0" fill="#aaa494"/><rect x="1120.93" y="416.5" width="1" height="266.0" fill="#0b0b09"/><rect x="1123.56" y="416.5" width="1" height="266.0" fill="#0b0b09"/><rect x="1124.56" y="416.5" width="1" height="266.0" fill="#c6c0af"/><rect x="1125.56" y="416.5" width="1" height="266.0" fill="#0b0b09"/><rect x="1128.19" y="416.5" width="1" height="266.0" fill="#0b0b09"/><rect x="1129.19" y="416.5" width="1" height="266.0" fill="#aaa494"/><rect x="1130.19" y="416.5" width="1" height="266.0" fill="#0b0b09"/><rect x="1132.82" y="416.5" width="1" height="266.0" fill="#0b0b09"/><rect x="1133.82" y="416.5" width="1" height="266.0" fill="#c6c0af"/><rect x="1134.82" y="416.5" width="1" height="266.0" fill="#0b0b09"/><rect x="1137.45" y="416.5" width="1" height="266.0" fill="#0b0b09"/><rect x="1138.45" y="416.5" width="1" height="266.0" fill="#aaa494"/><rect x="1139.45" y="416.5" width="1" height="266.0" fill="#0b0b09"/><rect x="1142.08" y="416.5" width="1" height="266.0" fill="#0b0b09"/><rect x="1143.08" y="416.5" width="1" height="266.0" fill="#c6c0af"/><rect x="1144.08" y="416.5" width="1" height="266.0" fill="#0b0b09"/><rect x="1146.71" y="416.5" width="1" height="266.0" fill="#0b0b09"/><rect x="1147.71" y="416.5" width="1" height="266.0" fill="#aaa494"/><rect x="1148.71" y="416.5" width="1" height="266.0" fill="#0b0b09"/></g>
<rect x="1067" y="416.5" width="84.5" height="266" fill="url(#gThSR)"/>
<rect x="1067" y="416.00" width="84.5" height="4.80" fill="#1f1e1a"/><path d="M1067.00 416.00 L1068.13 416.00 C1069.07 422.40 1074.32 422.40 1075.26 416.00 L1077.52 416.00 C1078.45 422.40 1083.71 422.40 1084.65 416.00 L1086.90 416.00 C1087.84 422.40 1093.10 422.40 1094.04 416.00 L1096.29 416.00 C1097.23 422.40 1102.49 422.40 1103.43 416.00 L1105.68 416.00 C1106.62 422.40 1111.88 422.40 1112.82 416.00 L1115.07 416.00 C1116.01 422.40 1121.27 422.40 1122.21 416.00 L1124.46 416.00 C1125.40 422.40 1130.66 422.40 1131.60 416.00 L1133.85 416.00 C1134.79 422.40 1140.05 422.40 1140.98 416.00 L1143.24 416.00 C1144.18 422.40 1149.43 422.40 1150.37 416.00 L1151.50 416.00 L1151.50 414.56 L1067.00 414.56 Z" fill="url(#hatch)"/><path d="M1067.00 416.00 L1068.13 416.00 C1069.07 422.40 1074.32 422.40 1075.26 416.00 L1077.52 416.00 C1078.45 422.40 1083.71 422.40 1084.65 416.00 L1086.90 416.00 C1087.84 422.40 1093.10 422.40 1094.04 416.00 L1096.29 416.00 C1097.23 422.40 1102.49 422.40 1103.43 416.00 L1105.68 416.00 C1106.62 422.40 1111.88 422.40 1112.82 416.00 L1115.07 416.00 C1116.01 422.40 1121.27 422.40 1122.21 416.00 L1124.46 416.00 C1125.40 422.40 1130.66 422.40 1131.60 416.00 L1133.85 416.00 C1134.79 422.40 1140.05 422.40 1140.98 416.00 L1143.24 416.00 C1144.18 422.40 1149.43 422.40 1150.37 416.00 L1151.50 416.00" fill="none" stroke="#000" stroke-width="0.9" stroke-linejoin="round"/>
<rect x="1067" y="678.20" width="84.5" height="4.80" fill="#1f1e1a"/><path d="M1067.00 683.00 L1068.13 683.00 C1069.07 676.60 1074.32 676.60 1075.26 683.00 L1077.52 683.00 C1078.45 676.60 1083.71 676.60 1084.65 683.00 L1086.90 683.00 C1087.84 676.60 1093.10 676.60 1094.04 683.00 L1096.29 683.00 C1097.23 676.60 1102.49 676.60 1103.43 683.00 L1105.68 683.00 C1106.62 676.60 1111.88 676.60 1112.82 683.00 L1115.07 683.00 C1116.01 676.60 1121.27 676.60 1122.21 683.00 L1124.46 683.00 C1125.40 676.60 1130.66 676.60 1131.60 683.00 L1133.85 683.00 C1134.79 676.60 1140.05 676.60 1140.98 683.00 L1143.24 683.00 C1144.18 676.60 1149.43 676.60 1150.37 683.00 L1151.50 683.00 L1151.50 684.44 L1067.00 684.44 Z" fill="url(#hatch)"/><path d="M1067.00 683.00 L1068.13 683.00 C1069.07 676.60 1074.32 676.60 1075.26 683.00 L1077.52 683.00 C1078.45 676.60 1083.71 676.60 1084.65 683.00 L1086.90 683.00 C1087.84 676.60 1093.10 676.60 1094.04 683.00 L1096.29 683.00 C1097.23 676.60 1102.49 676.60 1103.43 683.00 L1105.68 683.00 C1106.62 676.60 1111.88 676.60 1112.82 683.00 L1115.07 683.00 C1116.01 676.60 1121.27 676.60 1122.21 683.00 L1124.46 683.00 C1125.40 676.60 1130.66 676.60 1131.60 683.00 L1133.85 683.00 C1134.79 676.60 1140.05 676.60 1140.98 683.00 L1143.24 683.00 C1144.18 676.60 1149.43 676.60 1150.37 683.00 L1151.50 683.00" fill="none" stroke="#000" stroke-width="0.9" stroke-linejoin="round"/>
<rect x="1151" y="416" width="12.5" height="267" fill="url(#gER)" stroke="#000" stroke-width="1"/>
<line x1="54" y1="522.5" x2="186" y2="522.5" stroke="#000" stroke-width="1"/>
<polygon points="54.0,522.5 64.5,520.0 64.5,525.0" fill="#000"/>
<polygon points="166.0,522.5 155.5,520.0 155.5,525.0" fill="#000"/>
<text x="191.5" y="527.4" font-size="14.5" textLength="45.5" lengthAdjust="spacingAndGlyphs">0.600in</text>
<line x1="54" y1="569.5" x2="259" y2="569.5" stroke="#000" stroke-width="1"/>
<line x1="311" y1="569.5" x2="515" y2="569.5" stroke="#000" stroke-width="1"/>
<polygon points="54.0,569.5 64.5,567.0 64.5,572.0" fill="#000"/>
<polygon points="515.0,569.5 504.5,567.0 504.5,572.0" fill="#000"/>
<text x="262.5" y="574.9" font-size="14.5" textLength="45.5" lengthAdjust="spacingAndGlyphs">2.500in</text>
<line x1="370.5" y1="430" x2="370.5" y2="540" stroke="#000" stroke-width="1"/>
<line x1="370.5" y1="558" x2="370.5" y2="669" stroke="#000" stroke-width="1"/>
<polygon points="370.5,430.0 368.0,440.5 373.0,440.5" fill="#000"/>
<polygon points="370.5,669.0 368.0,658.5 373.0,658.5" fill="#000"/>
<text x="347.5" y="554.4" font-size="14.5" textLength="45" lengthAdjust="spacingAndGlyphs">1.300in</text>
<line x1="616" y1="424" x2="616" y2="540" stroke="#000" stroke-width="1"/>
<line x1="616" y1="558" x2="616" y2="675" stroke="#000" stroke-width="1"/>
<polygon points="616.0,424.0 613.5,434.5 618.5,434.5" fill="#000"/>
<polygon points="616.0,675.0 613.5,664.5 618.5,664.5" fill="#000"/>
<text x="593.5" y="554.4" font-size="14.5" textLength="45" lengthAdjust="spacingAndGlyphs">1.360in</text>
<line x1="516" y1="575.5" x2="814" y2="575.5" stroke="#000" stroke-width="1"/>
<line x1="866" y1="575.5" x2="1163" y2="575.5" stroke="#000" stroke-width="1"/>
<polygon points="516.0,575.5 526.5,573.0 526.5,578.0" fill="#000"/>
<polygon points="1163.0,575.5 1152.5,573.0 1152.5,578.0" fill="#000"/>
<text x="817.5" y="580.9" font-size="14.5" textLength="45.5" lengthAdjust="spacingAndGlyphs">3.500in</text>
<line x1="719.5" y1="643.5" x2="719.5" y2="675" stroke="#000" stroke-width="1"/>
<line x1="719.5" y1="643.5" x2="729" y2="643.5" stroke="#000" stroke-width="1"/>
<polygon points="719.5,675.5 717.0,665.0 722.0,665.0" fill="#000"/>
<line x1="719.5" y1="683" x2="719.5" y2="702" stroke="#000" stroke-width="1"/>
<polygon points="719.5,683.0 717.0,693.5 722.0,693.5" fill="#000"/>
<line x1="712" y1="683" x2="760" y2="683" stroke="#000" stroke-width="1"/>
<text x="731.5" y="648.9" font-size="14.5" textLength="135" lengthAdjust="spacingAndGlyphs">0.040in wall thickness</text>
<line x1="108" y1="643" x2="156.8" y2="713.5" stroke="#000" stroke-width="1"/>
<line x1="156.8" y1="713.5" x2="166.8" y2="713.5" stroke="#000" stroke-width="1"/>
<polygon points="108,643 115.5,649.5 111.5,652" fill="#000"/>
<text x="169" y="718.9" font-size="14.5" textLength="50" lengthAdjust="spacingAndGlyphs">1 3/8-24</text>
<line x1="1124.9" y1="648" x2="1094.1" y2="715.5" stroke="#000" stroke-width="1"/>
<line x1="1094.1" y1="715.5" x2="1084" y2="715.5" stroke="#000" stroke-width="1"/>
<polygon points="1124.9,648 1123.2,658 1118.8,656" fill="#000"/>
<text x="1022.3" y="720.6" font-size="14.5" textLength="58.5" lengthAdjust="spacingAndGlyphs">1 7/16-20</text>
<text x="119" y="47" font-size="23" textLength="141.5" lengthAdjust="spacing">Model# XR09</text>
<text x="478.2" y="40.8" font-size="22.7" textLength="578" lengthAdjust="spacing">Note: wrench flats are very narrow and are not meant for</text>
<text x="478.2" y="68.8" font-size="22.7" textLength="655.5" lengthAdjust="spacing">high torque applications! Using a strap wrench is recommended.</text>
<text x="326" y="743.5" font-size="22.8" textLength="304.5" lengthAdjust="spacing" font-weight="bold">Built in spacer length: 2.50"</text></svg></body></html>
